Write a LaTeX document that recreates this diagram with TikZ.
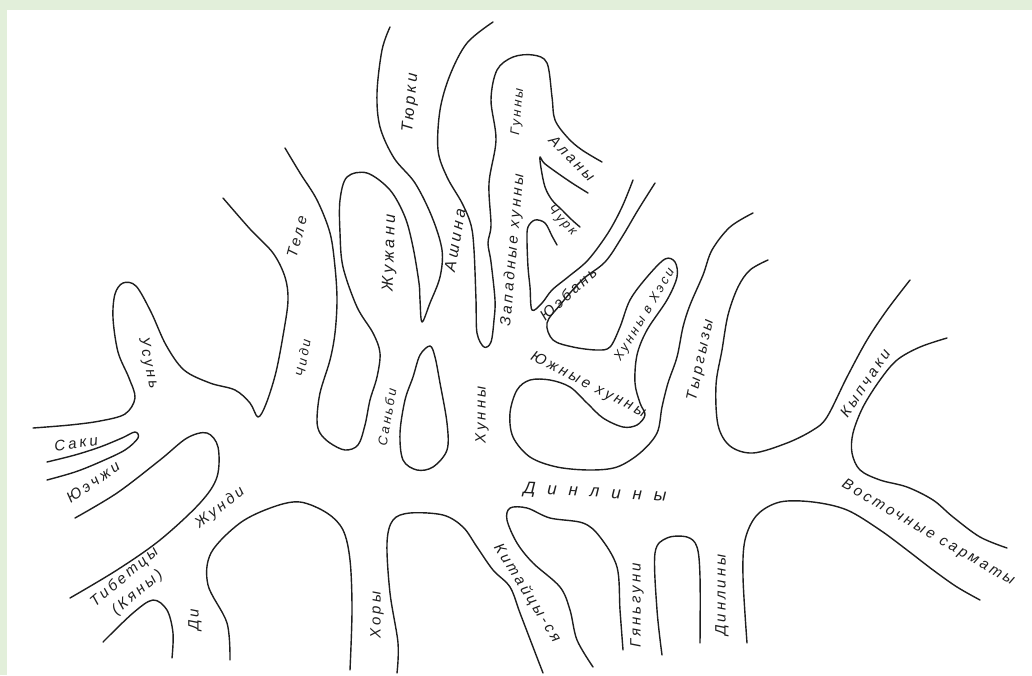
\documentclass[tikz,border=0pt]{standalone}
\usepackage{fontspec}
\newfontfamily\labfont{Liberation Sans}[LetterSpace=20]
\newfontfamily\bigfont{Liberation Sans}[LetterSpace=70]
\definecolor{band}{HTML}{E2EFDA}
\definecolor{ink}{HTML}{1E1E1E}
\begin{document}
\begin{tikzpicture}[x=1pt,y=-1pt]
\tikzset{
  contour/.style={draw=ink, line width=1.4pt, line cap=round, line join=round},
  lab/.style={font=\labfont\itshape\fontsize{15}{17}\selectfont, text=ink, inner sep=0pt},
  labs/.style={font=\labfont\itshape\fontsize{13}{15}\selectfont, text=ink, inner sep=0pt},
  labl/.style={font=\labfont\itshape\fontsize{16}{18}\selectfont, text=ink, inner sep=0pt},
  labb/.style={font=\bigfont\itshape\fontsize{17}{19}\selectfont, text=ink, inner sep=0pt},
}
\useasboundingbox (0,0) rectangle (1032,675);
\fill[white] (0,0) rectangle (1032,675);
\fill[band] (0,0) rectangle (1032,10);
\fill[band] (0,0) rectangle (7,675);

% Usun loop and Teles left line
\draw[contour] plot[smooth, tension=0.55] coordinates {(33,428) (70,425) (100,421) (125,414) (135,398) (129,378) (118,352) (113,318) (115,294) (123,283) (136,286) (151,312) (166,345) (184,370) (210,383) (235,390) (250,403) (258,417) (266,404) (276,372) (284,330) (288,300) (285,277) (273,253) (250,229) (223,198)};
% Saki hairpin
\draw[contour] plot[smooth, tension=0.55] coordinates {(47,462) (75,455) (100,447) (122,438) (135,432) (138,438) (125,450) (100,462) (75,472) (47,480)};
% Yuechzhi / Tibetans hairpin
\draw[contour] plot[smooth, tension=0.55] coordinates {(75,518) (117,493) (160,460) (187,438) (207,433) (218,447) (217,477) (200,503) (160,540) (117,570) (70,598)};
% Di hump
\draw[contour] plot[smooth, tension=0.55] coordinates {(103,642) (133,613) (153,600) (167,610) (173,633) (172,658)};
% Khory left
\draw[contour] plot[smooth, tension=0.55] coordinates {(230,660) (227,623) (208,585) (211,553) (240,523) (273,507) (300,502) (327,513) (343,530) (350,560) (352,610) (350,670)};
% Khory right / Kitaitsy left
\draw[contour] plot[smooth, tension=0.55] coordinates {(397,673) (398,643) (390,593) (387,543) (393,520) (410,513) (443,515) (463,527) (477,547) (493,570) (510,587) (520,613) (533,647) (543,673)};
% Kitaitsy right / Gyangun left
\draw[contour] plot[smooth, tension=0.55] coordinates {(593,667) (577,640) (570,610) (560,587) (533,563) (517,543) (507,520) (510,508) (527,508) (550,518) (583,523) (600,537) (617,567) (620,610) (623,650)};
% Gyangun hump
\draw[contour] plot[smooth, tension=0.55] coordinates {(662,655) (657,610) (655,553) (667,538) (687,537) (697,547) (700,577) (700,643)};
% Dinliny right / Sarmaty lower
\draw[contour] plot[smooth, tension=0.55] coordinates {(747,643) (743,577) (745,540) (757,515) (780,502) (813,502) (847,510) (880,530) (907,550) (933,570) (957,587) (980,600)};
% Sarmaty upper / Kypchak right
\draw[contour] plot[smooth, tension=0.55] coordinates {(1007,548) (980,537) (953,517) (933,500) (907,487) (880,480) (860,470) (852,453) (853,433) (863,407) (880,380) (897,360) (920,347) (947,338)};
% Kypchak left / Kyrgyz right
\draw[contour] plot[smooth, tension=0.55] coordinates {(910,280) (887,310) (867,340) (847,377) (827,417) (813,430) (787,443) (753,453) (730,446) (718,425) (716,385) (722,350) (728,315) (738,287) (750,270) (768,260)};
% Yueban lower, Hexi loop, Southern Xiongnu, Kyrgyz left
\draw[contour] plot[smooth, tension=0.55] coordinates {(655,183) (638,210) (622,237) (605,262) (582,280) (560,305) (547,323) (553,340) (573,347) (597,350) (610,347) (620,327) (630,300) (647,277) (665,259) (675,262) (677,277) (667,300) (647,330) (637,355) (635,383) (640,403) (645,415) (637,425) (623,427) (603,418) (587,403) (570,387) (550,380) (530,380) (517,390) (510,413) (513,437) (530,457) (557,467) (590,470) (617,467) (640,453) (657,433) (662,407) (668,383) (677,357) (683,327) (690,305) (703,275) (712,250) (730,227) (753,213)};
% Yueban upper / Churk hairpin
\draw[contour] plot[smooth, tension=0.55] coordinates {(557,245) (552,236) (545,223) (535,220) (528,227) (527,240) (528,267) (530,287) (532,310) (542,303) (552,290) (568,277) (588,260) (608,233) (622,207) (633,180)};
% Alany / Churk hairpin
\draw[contour] plot[smooth, tension=0.55] coordinates {(588,193) (572,183) (556,172) (544,163) (540,157) (541,168) (545,187) (552,200) (562,210) (572,220) (580,227)};
% Tyurki right, Ashina right, Western Huns loop, Alany top
\draw[contour] plot[smooth, tension=0.55] coordinates {(493,22) (467,43) (450,75) (440,110) (438,150) (447,177) (462,203) (471,225) (474,250) (476,300) (477,333) (484,347) (491,342) (494,320) (495,300) (491,262) (488,243) (491,225) (489,183) (496,140) (491,100) (497,70) (513,57) (533,55) (547,63) (552,97) (555,120) (568,138) (582,150) (602,162)};
% Tyurki left, Zhuzhan, Sanbi, Teles right
\draw[contour] plot[smooth, tension=0.55] coordinates {(390,27) (382,50) (377,93) (380,127) (394,158) (415,183) (432,217) (442,250) (440,277) (430,303) (422,322) (420,300) (419,283) (413,247) (405,217) (390,190) (367,173) (347,177) (340,200) (340,233) (343,267) (357,307) (373,333) (380,353) (377,377) (370,400) (365,425) (358,445) (345,450) (330,443) (320,433) (317,420) (320,393) (330,360) (335,333) (337,300) (335,267) (330,233) (317,200) (300,173) (285,148)};
% teardrop
\draw[contour] plot[smooth cycle, tension=0.55] coordinates {(430,346) (420,355) (413,377) (405,400) (400,433) (403,460) (417,470) (433,467) (447,450) (447,423) (440,383) (435,357)};

% labels
\node[lab, rotate=-78] (usun) at (148,363) {Усунь};
\node[lab, rotate=8] (saki) at (76,443) {Саки};
\node[lab, rotate=35] (yuech) at (93,482) {Юэчжи};
\node[lab, rotate=38] (zhundi) at (220,508) {Жунди};
\node[lab, rotate=40, align=center, font=\labfont\itshape\fontsize{15}{20}\selectfont] (tibet) at (131,585) {Тибетцы\\(Кяны)};
\node[lab, rotate=90] (di) at (195,620) {Ди};
\node[labs, rotate=80] (chidi) at (303,358) {Чиди};
\node[lab, rotate=75] (tele) at (297,237) {Теле};
\node[labl, rotate=85] (tyurki) at (411,103) {Тюрки};
\node[labl, rotate=88] (zhuzh) at (390,253) {Жужани};
\node[labl, rotate=80] (ashina) at (455,240) {Ашина};
\node[labs, rotate=80] (sanbi) at (387,417) {Саньби};
\node[labs, rotate=85] (gunny) at (518,112) {Гунны};
\node[lab, rotate=85] (zapad) at (513,250) {Западные хунны};
\node[lab, rotate=-45] (alany) at (572,158) {Аланы};
\node[labs, rotate=-47] (churk) at (562,221) {Чурк};
\node[lab, rotate=42] (yueban) at (568,294) {Юэбань};
\node[labs, rotate=59] (hexi) at (645,315) {Хунны в Хэси};
\node[lab, rotate=-27] (yuzh) at (588,385) {Южные хунны};
\node[lab, rotate=90] (hunny) at (482,415) {Хунны};
\node[lab, rotate=78] (kyrg) at (701,360) {Тыргызы};
\node[lab, rotate=56] (kypch) at (865,383) {Кыпчаки};
\node[lab, rotate=-30] (sarm) at (928,533) {Восточные сарматы};
\node[lab, rotate=90] (khory) at (377,615) {Хоры};
\node[lab, rotate=-58] (kitai) at (527,593) {Китайцы-ся};
\node[lab, rotate=90] (gyang) at (637,605) {Гяньгуни};
\node[lab, rotate=90] (dinl) at (722,595) {Динлины};
\node[labb, rotate=-3] (dinlbig) at (595,493) {Динлины};
\end{tikzpicture}
\end{document}
